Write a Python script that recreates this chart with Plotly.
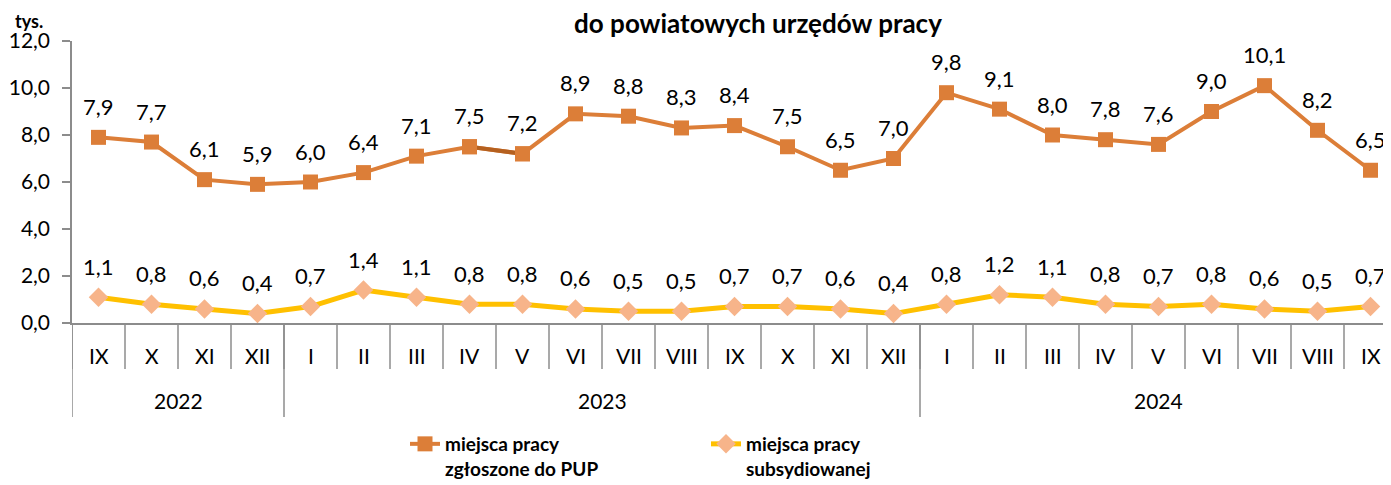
import plotly.graph_objects as go

months = ["IX", "X", "XI", "XII", "I", "II", "III", "IV", "V", "VI", "VII", "VIII",
          "IX", "X", "XI", "XII", "I", "II", "III", "IV", "V", "VI", "VII", "VIII", "IX"]
years = ["2022", "2023", "2024"]
year_counts = [4, 12, 9]
zgloszone = [7.9, 7.7, 6.1, 5.9, 6.0, 6.4, 7.1, 7.5, 7.2, 8.9, 8.8, 8.3, 8.4, 7.5, 6.5,
             7.0, 9.8, 9.1, 8.0, 7.8, 7.6, 9.0, 10.1, 8.2, 6.5]
subsydiowane = [1.1, 0.8, 0.6, 0.4, 0.7, 1.4, 1.1, 0.8, 0.8, 0.6, 0.5, 0.5, 0.7, 0.7, 0.6,
                0.4, 0.8, 1.2, 1.1, 0.8, 0.7, 0.8, 0.6, 0.5, 0.7]
name_a = "<b>miejsca pracy<br>zgłoszone do PUP</b>"
name_b = "<b>miejsca pracy<br>subsydiowanej</b>"
title_text = "do powiatowych urzędów pracy"

ORANGE = "#DC7E38"
DARK = "#B5601F"
YELLOW = "#FFC000"
SALMON = "#F7B48A"
GRAY = "#8C8C8C"
FONT = "Lato"

W, H = 1391, 485
OFF = 8  # page body margin offset
L = 72 - OFF
T = 41 - OFF
PB = 323 - OFF          # plot bottom in figure px
B = H - PB
R = 2
PH = PB - T

x = list(range(len(months)))
fig = go.Figure()

fig.add_trace(go.Scatter(x=x, y=subsydiowane, mode="lines+markers", name=name_b,
                         line=dict(color=YELLOW, width=5),
                         marker=dict(symbol="diamond", size=15, color=SALMON),
                         cliponaxis=False))
fig.add_trace(go.Scatter(x=x, y=zgloszone, mode="lines+markers", name=name_a,
                         line=dict(color=ORANGE, width=4),
                         marker=dict(symbol="square", size=15, color=ORANGE),
                         cliponaxis=False))
# darker segment IV-V 2023
fig.add_trace(go.Scatter(x=x[7:9], y=zgloszone[7:9], mode="lines", showlegend=False,
                         line=dict(color=DARK, width=4), hoverinfo="skip"))
fig.add_trace(go.Scatter(x=x[7:9], y=zgloszone[7:9], mode="markers", showlegend=False,
                         marker=dict(symbol="square", size=15, color=ORANGE), hoverinfo="skip"))

annotations = []
for series in (zgloszone, subsydiowane):
    for i, v in enumerate(series):
        annotations.append(dict(x=i, y=v, xref="x", yref="y", text=f"{v:.1f}".replace(".", ","),
                                showarrow=False, yshift=31, yanchor="middle",
                                font=dict(size=22, color="#000")))

shapes = []
for i in range(len(months) + 1):
    shapes.append(dict(type="line", xref="x", yref="paper", x0=i - 0.5, x1=i - 0.5,
                       y0=0, y1=-46 / PH, line=dict(color=GRAY, width=1.5)))
for i, m in enumerate(months):
    annotations.append(dict(x=i, y=0, xref="x", yref="paper", text=m, showarrow=False,
                            yshift=-32, yanchor="middle", font=dict(size=21, color="#000")))
start = 0
bounds = [0]
for yname, c in zip(years, year_counts):
    annotations.append(dict(x=start + (c - 1) / 2, y=0, xref="x", yref="paper", text=yname,
                            showarrow=False, yshift=-77, yanchor="middle",
                            font=dict(size=21, color="#000")))
    start += c
    bounds.append(start)
for b in bounds:
    shapes.append(dict(type="line", xref="x", yref="paper", x0=b - 0.5, x1=b - 0.5,
                       y0=0, y1=-94 / PH, line=dict(color=GRAY, width=1.5)))

annotations.append(dict(x=(29 - OFF - L) / (W - L - R), y=1 + T / PH,
                        xref="paper", yref="paper",
                        text="<b>tys.</b>", showarrow=False, xanchor="center", yanchor="top",
                        font=dict(size=18, color="#000")))

fig.update_layout(
    width=W, height=H,
    margin=dict(l=L, r=R, t=T, b=B, autoexpand=False),
    paper_bgcolor="white", plot_bgcolor="white",
    separators=", ",
    font=dict(family=FONT, size=19, color="#000"),
    title=dict(text=f"<b>{title_text}</b>", x=(758 - OFF) / W, xanchor="center", xref="container",
               y=1 - (24 - OFF) / H, yanchor="middle", yref="container",
               font=dict(size=26, color="#000")),
    xaxis=dict(range=[-0.5, 24.5], showticklabels=False, ticks="", showgrid=False,
               zeroline=False, showline=True, linecolor=GRAY, linewidth=1.5, fixedrange=True,
               automargin=False),
    yaxis=dict(range=[0, 12], dtick=2, tickformat=".1f", showgrid=False, zeroline=False,
               showline=True, linecolor=GRAY, linewidth=1.5, ticks="outside",
               ticklen=8, tickcolor=GRAY, tickwidth=1.5, tickfont=dict(size=21),
               ticklabelstandoff=8, automargin=False),
    legend=dict(orientation="h", x=(405 - OFF) / W, y=1 - (423 - OFF + 2) / H,
                xref="container", yref="container",
                xanchor="left", yanchor="top",
                traceorder="reversed", entrywidth=256, entrywidthmode="pixels",
                valign="top", font=dict(size=19, color="#000", family=FONT)),
    annotations=annotations, shapes=shapes,
    showlegend=True,
)

fig.write_html("out.html")
